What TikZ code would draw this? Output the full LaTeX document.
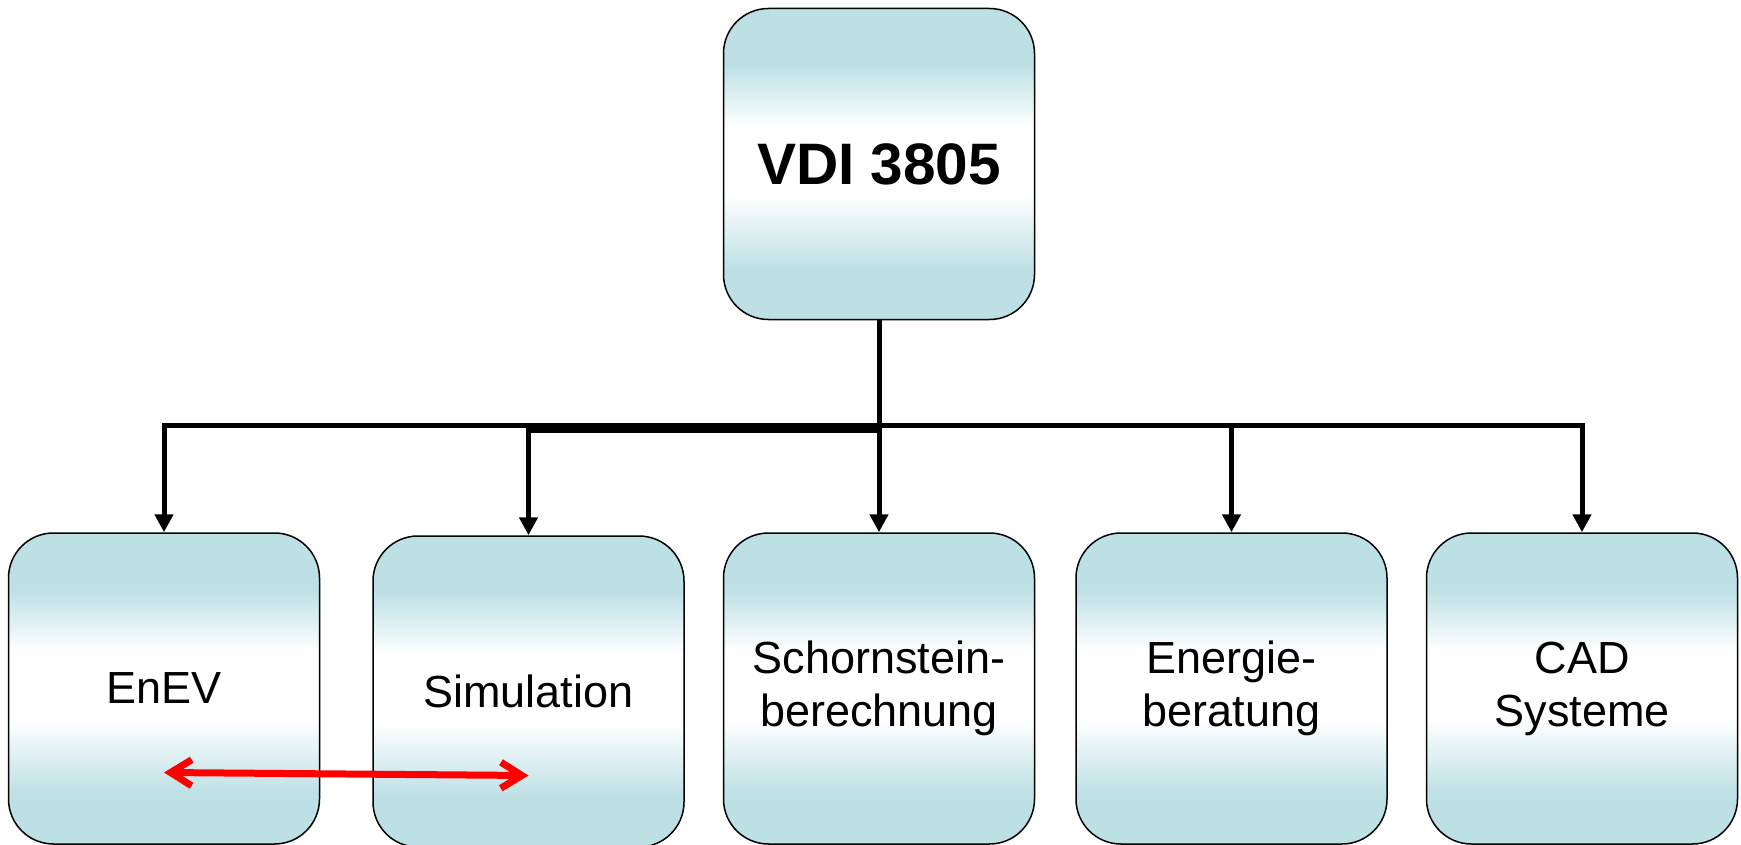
\documentclass[tikz,border=0pt]{standalone}
\usepackage{fontspec}
\setmainfont{Liberation Sans}
\usetikzlibrary{positioning, arrows.meta}
\definecolor{boxteal}{RGB}{189,224,228}
\pgfdeclareverticalshading{boxshade}{100bp}{color(0bp)=(boxteal); color(33bp)=(boxteal); color(45bp)=(white); color(56bp)=(white); color(66bp)=(boxteal); color(100bp)=(boxteal)}
\tikzset{
  topic/.style = {draw, line width=1.5pt, rounded corners=45pt, shade, shading=boxshade,
                  minimum width=311pt, minimum height=311pt, inner sep=0pt,
                  align=center, font=\fontsize{45}{53}\selectfont},
  tree/.style = {line width=5pt, -{Triangle[length=18pt,width=18pt]}},
  link/.style = {red, line width=7pt, line cap=round,
                 {Straight Barb[length=21pt,width=26pt]}-{Straight Barb[length=21pt,width=26pt]}}
}

\begin{document}
\begin{tikzpicture}
    \useasboundingbox (0,0) rectangle (1741pt,-845pt);
    \node[topic, font=\bfseries\fontsize{58.5}{70}\selectfont] (vdi) at (879pt,-164pt) {VDI 3805};
    \node[topic, below=212pt of vdi] (schorn) {Schornstein-\\berechnung};
    \node[topic, left=38pt of schorn, yshift=-3pt] (sim) {Simulation};
    \node[topic, left=52pt of sim, yshift=3pt] (enev) {EnEV};
    \node[topic, right=40pt of schorn] (energie) {Energie-\\beratung};
    \node[topic, right=38pt of energie] (cad) {CAD\\Systeme};
    \foreach \n/\d in {enev/105, sim/110, schorn/105, energie/105, cad/105}
        \draw[tree] (vdi.south) -- ++(0,-\d pt) -| (\n.north);
    \draw[link] ([yshift=-84pt]enev.center) -- ([yshift=-84pt]sim.center);
\end{tikzpicture}
\end{document}
